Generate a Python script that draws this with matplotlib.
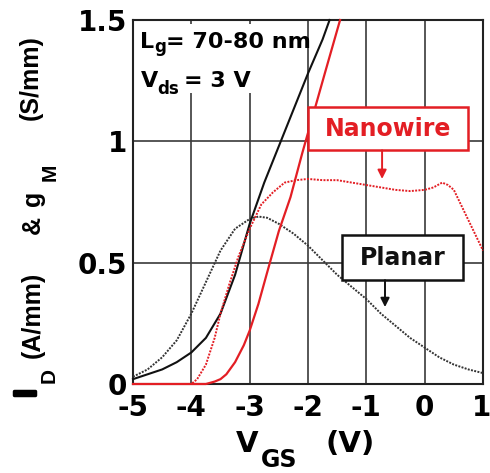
import matplotlib
matplotlib.use("Agg")
import matplotlib.pyplot as plt
import matplotlib.patheffects as pe
from matplotlib.patches import Rectangle

# ---------------- data ----------------
vgs_gm_planar = [-5.0, -4.75, -4.5, -4.25, -4.0, -3.75, -3.5, -3.25, -3.0, -2.85, -2.7,
                 -2.5, -2.25, -2.0, -1.75, -1.5, -1.25, -1.0, -0.75, -0.5, -0.25,
                 0.0, 0.25, 0.5, 0.75, 1.0]
gm_planar = [0.03, 0.06, 0.11, 0.18, 0.29, 0.42, 0.55, 0.64, 0.68, 0.69, 0.685,
             0.66, 0.62, 0.57, 0.51, 0.45, 0.40, 0.35, 0.29, 0.24, 0.19,
             0.15, 0.11, 0.08, 0.06, 0.045]

vgs_id_planar = [-5.0, -4.75, -4.5, -4.25, -4.0, -3.75, -3.5, -3.25, -3.0, -2.75,
                 -2.5, -2.25, -2.0, -1.75, -1.63]
id_planar = [0.02, 0.04, 0.06, 0.09, 0.13, 0.19, 0.29, 0.45, 0.66, 0.83,
             0.98, 1.13, 1.28, 1.42, 1.5]

vgs_gm_nw = [-5.0, -4.0, -3.9, -3.75, -3.6, -3.5, -3.35, -3.2, -3.0, -2.8, -2.6,
             -2.4, -2.2, -2.0, -1.75, -1.5, -1.25, -1.0, -0.75, -0.5, -0.25,
             0.0, 0.15, 0.3, 0.4, 0.5, 0.6, 0.7, 0.8, 0.9, 1.0]
gm_nw = [0.0, 0.0, 0.02, 0.08, 0.19, 0.29, 0.41, 0.52, 0.64, 0.74, 0.79,
         0.83, 0.84, 0.845, 0.84, 0.84, 0.83, 0.82, 0.81, 0.80, 0.795,
         0.80, 0.81, 0.83, 0.82, 0.80, 0.75, 0.70, 0.65, 0.60, 0.55]

vgs_id_nw = [-5.0, -3.75, -3.6, -3.5, -3.4, -3.25, -3.1, -3.0, -2.85, -2.7,
             -2.5, -2.3, -2.1, -1.9, -1.7, -1.45]
id_nw = [0.0, 0.0, 0.01, 0.02, 0.04, 0.09, 0.16, 0.22, 0.33, 0.46,
         0.63, 0.77, 0.95, 1.12, 1.29, 1.5]

x_ticks = [-5, -4, -3, -2, -1, 0, 1]
x_tick_labels = ["-5", "-4", "-3", "-2", "-1", "0", "1"]
y_ticks = [0, 0.5, 1.0, 1.5]
y_tick_labels = ["0", "0.5", "1", "1.5"]

RED = "#e31e24"
BLACK = "#111111"

W, H = 490, 473
fig = plt.figure(figsize=(W / 100, H / 100), dpi=100)

def fx(px):
    return px / W

def fy(py):
    return 1 - py / H

L, R, T, B = 133, 483, 20, 384
ax = fig.add_axes([fx(L), fy(B), (R - L) / W, (B - T) / H])

def axx(px):
    return (px - L) / (R - L)

def axy(py):
    return (B - py) / (B - T)

ax.set_xlim(-5, 1)
ax.set_ylim(0, 1.5)
ax.set_xticks(x_ticks)
ax.set_xticklabels(x_tick_labels)
ax.set_yticks(y_ticks)
ax.set_yticklabels(y_tick_labels)
ax.grid(True, color="#3a3a3a", lw=1.2)
for s in ax.spines.values():
    s.set_linewidth(1.5)
    s.set_color("#222222")
ax.tick_params(length=0, labelsize=20)
ax.tick_params(axis="x", pad=7)
ax.tick_params(axis="y", pad=4)
for lab in ax.get_xticklabels() + ax.get_yticklabels():
    lab.set_fontweight("bold")
    lab.set_family("DejaVu Sans")
# keep the last x label inside the figure edge
ax.get_xticklabels()[-1].set_horizontalalignment("right")
ax.get_xticklabels()[-1].set_x(1.0)
for lab in ax.get_xticklabels()[-1:]:
    lab.set_transform(lab.get_transform() + matplotlib.transforms.ScaledTranslation(8 / 100, 0, fig.dpi_scale_trans))

# curves
ax.plot(vgs_gm_planar, gm_planar, color="#333333", lw=1.4, ls=(0, (1, 0.7)), zorder=4, clip_on=False)
ax.plot(vgs_id_planar, id_planar, color=BLACK, lw=1.5, zorder=4, clip_on=False)
ax.plot(vgs_gm_nw, gm_nw, color=RED, lw=1.4, ls=(0, (1, 0.7)), zorder=5, clip_on=False)
ax.plot(vgs_id_nw, id_nw, color=RED, lw=1.6, zorder=5, clip_on=False)

# white background behind the condition text
ax.add_patch(Rectangle((axx(135), axy(93)), axx(303) - axx(135), axy(24) - axy(93),
                       transform=ax.transAxes, facecolor="white", edgecolor="none", zorder=2))

# Nanowire box
ax.add_patch(Rectangle((axx(308), axy(150)), axx(468) - axx(308), axy(107) - axy(150),
                       transform=ax.transAxes, facecolor="white", edgecolor=RED, lw=1.8, zorder=6))
ax.text(axx(388), axy(129), "Nanowire", transform=ax.transAxes, ha="center", va="center",
        color=RED, fontsize=17, fontweight="bold", zorder=7)
ax.annotate("", xy=(-0.73, 0.845), xytext=(-0.73, 0.963),
            arrowprops=dict(arrowstyle="-|>", color=RED, lw=1.4, mutation_scale=13, shrinkA=0, shrinkB=0),
            zorder=7)

# Planar box
ax.add_patch(Rectangle((axx(342), axy(280)), axx(463) - axx(342), axy(235) - axy(280),
                       transform=ax.transAxes, facecolor="white", edgecolor=BLACK, lw=1.8, zorder=6))
ax.text(axx(403), axy(258), "Planar", transform=ax.transAxes, ha="center", va="center",
        color=BLACK, fontsize=17, fontweight="bold", zorder=7)
ax.annotate("", xy=(-0.68, 0.317), xytext=(-0.68, 0.428),
            arrowprops=dict(arrowstyle="-|>", color=BLACK, lw=1.4, mutation_scale=13, shrinkA=0, shrinkB=0),
            zorder=7)

# condition texts (figure pixel placement)
def ftext(px, py, s, size, **kw):
    fig.text(fx(px), fy(py), s, fontsize=size, fontweight="bold", family="DejaVu Sans",
             ha="left", va="baseline", **kw)

ftext(140, 48, "L", 16)
ftext(154, 52, "g", 12)
ftext(166, 48, "= 70-80 nm", 16)
ftext(141, 87, "V", 16)
ftext(157, 94, "ds", 12)
ftext(184, 87, "= 3 V", 16)

# x label
ftext(236, 452, "V", 21)
ftext(261, 467, "GS", 17)
ftext(325, 452, "(V)", 21)

# y label (rotated)
def rtext(px, py, s, size, **kw):
    fig.text(fx(px), fy(py), s, fontsize=size, fontweight="bold", family="Liberation Sans",
             rotation=90, rotation_mode="anchor", ha="left", va="baseline", **kw)

rtext(35, 397, "I", 21.5, path_effects=[pe.withStroke(linewidth=2.5, foreground="black")])
rtext(55, 383, "D", 15)
rtext(40, 358, "(A/mm)", 18)
rtext(40, 234, "&", 18)
rtext(40, 206, "g", 18)
rtext(56, 181, "M", 15)
rtext(38, 120, "(S/mm)", 18)

fig.savefig("out.png", dpi=100)
